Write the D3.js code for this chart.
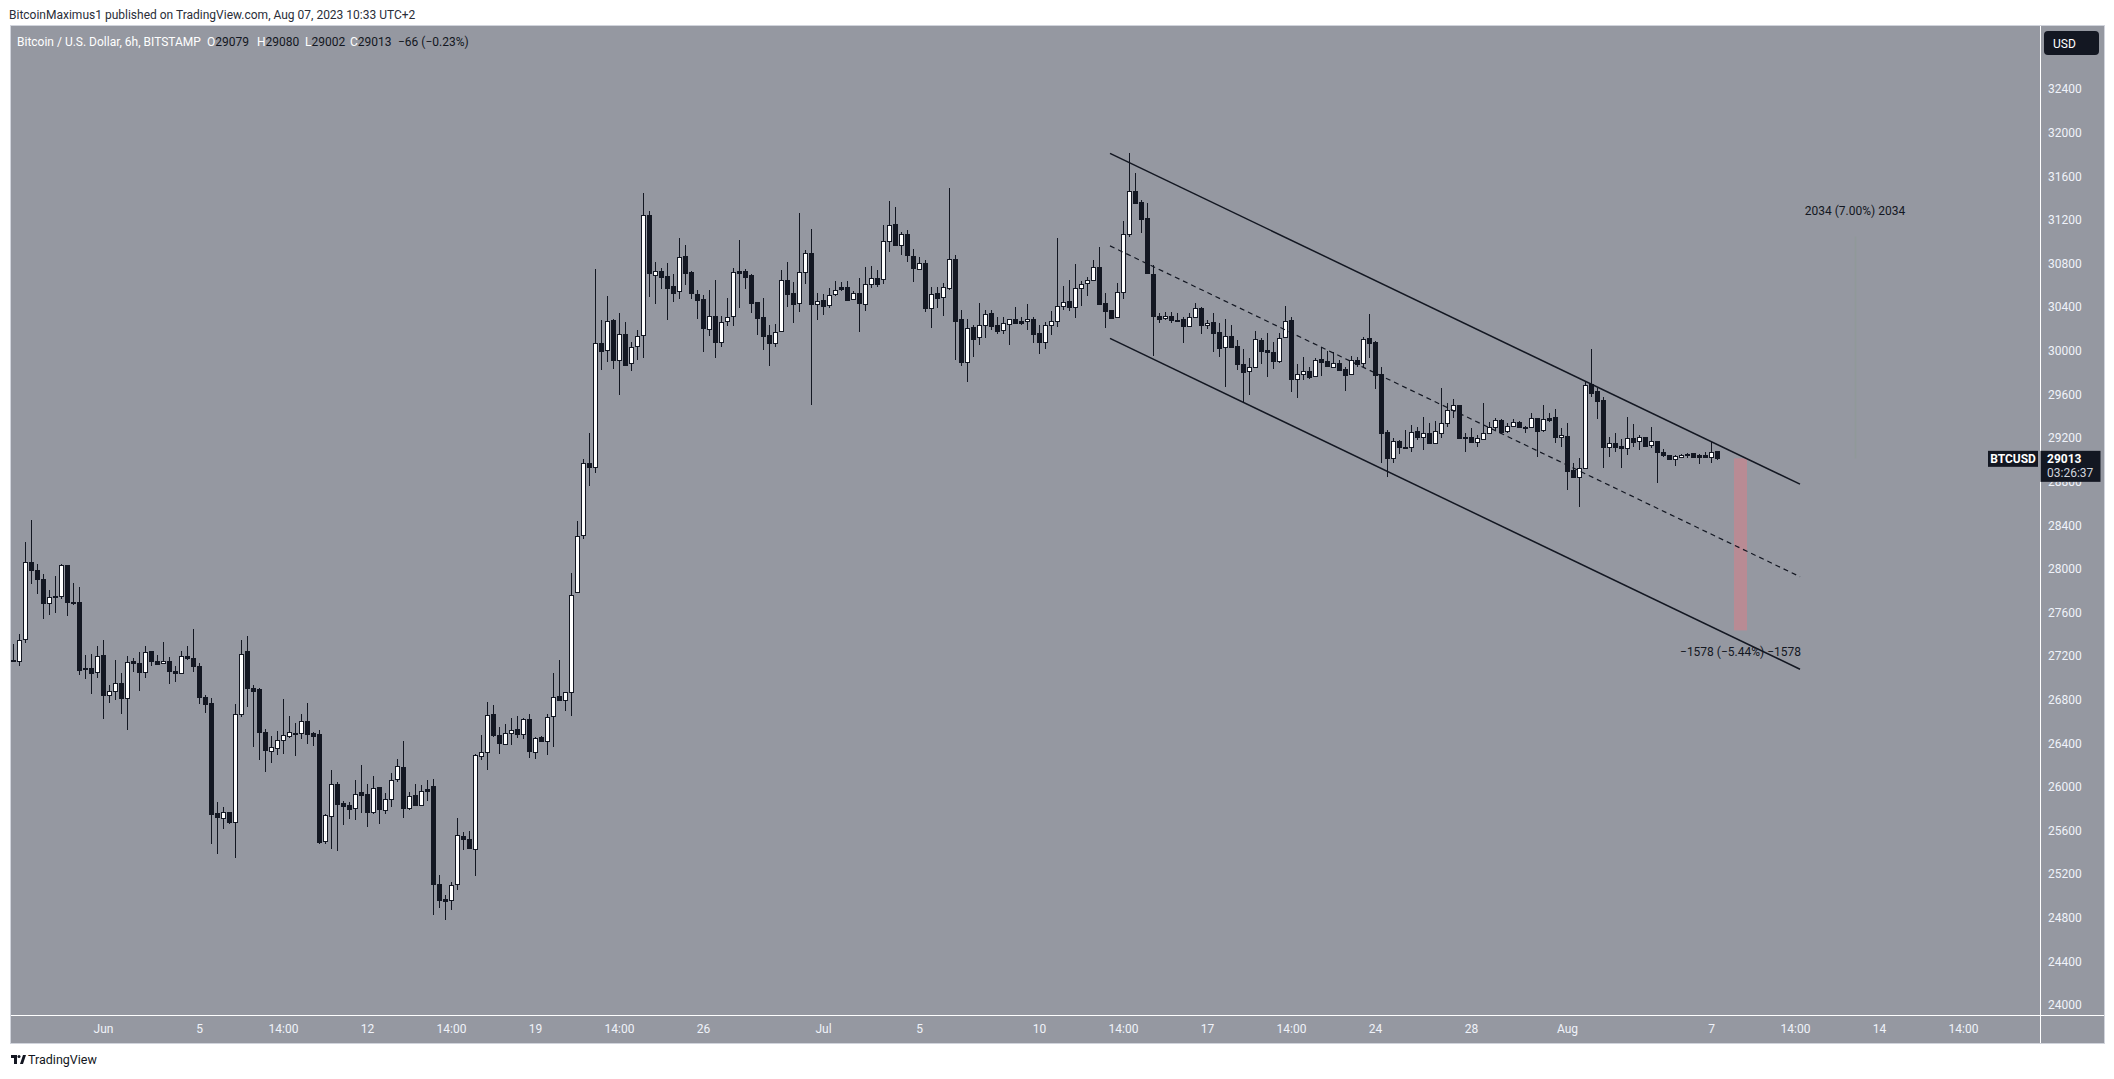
<!DOCTYPE html>
<html><head><meta charset="utf-8">
<script src="https://cdn.jsdelivr.net/npm/d3@7"></script>
<style>
body{margin:0;background:#fff;}
svg{display:block;font-family:Roboto,"Noto Sans",sans-serif;}
</style>
</head><body>
<svg id="c" width="2114" height="1079"></svg>
<script>
// ---------- DATA (times are chart-local UTC+2, stored as UTC) ----------
const firstCandle = "2023-05-28T08:00";
const candleHours = 6;
const opens = [27162,27159,27352,28058,27991,27908,27691,27737,27755,28031,27700,27697,27077,27086,27058,27211,26847,26884,26951,26811,27153,27135,27058,27242,27159,27132,27159,27061,27040,27199,27181,27107,26823,26768,25759,25719,25774,25682,26664,27245,26911,26896,26499,26333,26361,26434,26471,26498,26498,26602,26492,26483,25507,25737,26024,25853,25832,25810,25957,25932,25770,25997,25792,25893,26073,26183,25807,25923,25835,25978,26006,25113,24975,24963,25110,25553,25520,25434,26287,26321,26666,26480,26394,26498,26529,26486,26620,26324,26455,26425,26654,26831,26801,26874,27789,28308,28966,28931,30068,30002,30280,29916,30150,29885,30040,30141,31243,30690,30735,30684,30589,30545,30864,30722,30520,30472,30201,30318,30077,30270,30314,30728,30728,30694,30447,30308,30141,30068,30179,30652,30529,30434,30725,30896,30425,30463,30416,30517,30580,30583,30472,30529,30425,30608,30666,30654,31002,31161,30972,31070,30868,30752,30800,30388,30528,30489,30577,30837,30287,29892,30216,30122,30232,30345,30235,30186,30247,30287,30271,30268,30287,30158,30076,30232,30268,30406,30455,30397,30571,30617,30645,30764,30437,30372,30305,30534,31067,31461,31360,31216,30700,30317,30296,30317,30284,30287,30229,30305,30388,30232,30259,30168,30030,30131,30039,29874,29813,29853,30097,30005,29987,29908,30128,30281,29742,29791,29813,29764,29920,29905,29853,29886,29834,29782,29914,29883,30116,30079,29791,29253,29012,29168,29116,29119,29262,29210,29250,29155,29250,29339,29455,29501,29205,29208,29165,29186,29241,29302,29361,29260,29312,29348,29305,29302,29385,29272,29379,29388,29205,29217,28905,28838,28929,29694,29633,29547,29113,29150,29125,29104,29195,29171,29205,29131,29168,29070,29040,29006,29027,29040,29058,29043,29043,29027,29079];
const highs = [27309,27398,28245,28447,28040,27951,27810,27933,28043,28031,27866,27829,27208,27217,27291,27343,26939,27162,27043,27205,27180,27233,27291,27245,27211,27327,27190,27110,27245,27294,27447,27138,26841,26811,25860,25814,25774,26759,27346,27382,26930,26908,26532,26465,26511,26804,26648,26590,26672,26770,26504,26520,25755,26153,26042,25871,25862,26061,26198,26024,26098,25997,25948,26131,26260,26419,25954,26030,26015,26061,26070,25189,25006,25128,25718,25587,25596,26299,26474,26780,26749,26550,26575,26633,26648,26636,26672,26458,26465,26672,27046,27162,26874,27963,28437,29004,29250,30747,30280,30498,30289,30346,30264,30078,30188,31442,31278,30810,30754,30804,30703,31038,30968,30731,30558,30510,30561,30646,30318,30479,30763,31016,30747,30703,30447,30479,30235,30245,30741,30810,30630,31262,30921,31114,30529,30520,30573,30640,30630,30640,30545,30671,30772,30776,30739,31152,31372,31320,31085,31106,30929,30856,30831,30580,30580,30617,31489,30877,30372,30287,30232,30434,30372,30372,30305,30311,30287,30400,30305,30427,30311,30232,30265,30363,31030,30593,30648,30794,30642,30672,30831,30947,30525,30372,30617,31189,31810,31626,31382,31351,30785,30348,30357,30357,30348,30311,30342,30434,30403,30281,30342,30250,30287,30232,30097,30012,29929,30180,30119,30158,30082,30164,30412,30305,29877,29944,29853,29929,30036,29996,29990,29914,29853,29950,29944,30128,30336,30088,29853,29271,29195,29180,29271,29317,29302,29388,29339,29354,29660,29516,29553,29501,29241,29287,29226,29516,29348,29379,29370,29333,29370,29354,29308,29431,29385,29501,29425,29461,29287,29333,28966,29012,29721,30015,29654,29572,29211,29241,29186,29388,29324,29226,29211,29296,29174,29095,29043,29043,29052,29064,29064,29052,29073,29165,29080];
const lows = [27147,27110,27321,27865,27765,27544,27581,27596,27725,27569,27667,27028,26994,26856,27003,26627,26774,26801,26673,26520,27055,26884,27003,27113,27119,27129,26942,26963,27040,27168,27058,26759,26682,25480,25389,25618,25658,25352,26642,26734,26367,26251,26141,26223,26294,26300,26444,26287,26443,26397,26376,25480,25480,25434,25413,25648,25709,25694,25761,25633,25755,25663,25755,25816,26046,25718,25792,25835,25831,25871,24822,24890,24776,24868,25058,25425,25437,25180,26244,26159,26458,26299,26394,26382,26449,26443,26269,26257,26416,26296,26367,26789,26697,26651,27779,28277,28760,28877,29825,29897,29831,29597,29872,29815,29913,29935,30494,30431,30567,30283,30447,30476,30599,30472,30292,29992,30134,29935,30036,30229,30229,30393,30567,30346,30147,30008,29863,30036,30179,30403,30251,30352,30615,29503,30283,30324,30393,30504,30551,30469,30463,30172,30362,30577,30586,30608,30908,30972,30880,30816,30632,30752,30357,30204,30394,30320,30556,29914,29862,29715,29938,30054,30119,30189,30155,30155,30054,30256,30235,30192,30073,29969,30012,30146,30219,30372,30363,30302,30412,30501,30645,30424,30210,30296,30296,30470,31039,31351,31082,30709,29950,30256,30281,30256,30278,30067,30229,30296,30149,30195,29990,29938,29669,30036,29822,29516,29590,29853,29874,29755,29831,29889,30119,29623,29562,29730,29745,29761,29767,29853,29837,29813,29632,29776,29853,29853,29929,29645,28972,28843,28966,29057,29110,29073,29180,29094,29155,29155,29195,29302,29379,29195,29073,29159,29119,29186,29241,29272,29241,29241,29296,29302,29241,29302,29027,29257,29348,29150,29113,28721,28838,28569,28920,29572,29370,28926,29021,29073,28920,29043,29113,29088,29113,29104,28783,29027,28997,28945,29018,29012,29021,28957,29012,28972,29002];
const closes = [27159,27343,28058,27991,27908,27688,27737,27755,28031,27697,27697,27073,27092,27049,27205,26847,26884,26957,26817,27147,27132,27055,27239,27159,27129,27159,27067,27040,27196,27178,27113,26820,26762,25755,25728,25774,25682,26664,27223,26908,26881,26505,26340,26370,26428,26480,26499,26495,26608,26489,26468,25495,25740,26024,25847,25825,25798,25939,25926,25770,25987,25795,25893,26067,26189,25807,25920,25835,25966,25963,25110,24963,24954,25104,25562,25523,25437,26290,26321,26663,26474,26403,26498,26526,26486,26620,26330,26452,26422,26645,26828,26795,26874,27764,28305,28966,28931,30068,29999,30277,29916,30150,29872,30036,30138,31249,30709,30735,30678,30577,30532,30855,30709,30532,30469,30210,30314,30077,30264,30311,30719,30716,30678,30441,30299,30138,30068,30172,30652,30520,30431,30719,30896,30425,30460,30412,30513,30561,30567,30469,30529,30441,30608,30663,30614,31002,31152,30972,31070,30880,30761,30800,30394,30516,30486,30580,30837,30275,29898,30204,30109,30232,30339,30229,30183,30250,30287,30256,30256,30287,30155,30079,30232,30268,30406,30449,30403,30571,30608,30645,30764,30430,30366,30302,30534,31067,31461,31357,31210,30715,30320,30290,30314,30281,30281,30229,30305,30388,30238,30256,30164,30027,30137,30036,29874,29807,29853,30103,29999,29984,29908,30119,30275,29742,29791,29810,29761,29914,29898,29862,29883,29822,29779,29911,29880,30109,30073,29776,29247,29018,29171,29116,29119,29256,29210,29250,29155,29262,29339,29455,29498,29202,29202,29165,29195,29250,29302,29361,29257,29312,29348,29302,29302,29385,29266,29370,29364,29205,29223,28899,28838,28920,29682,29614,29541,29119,29150,29116,29104,29195,29165,29205,29125,29174,29067,29040,29003,29030,29043,29055,29027,29027,29027,29067,29013];

const priceTicks = [24000,24400,24800,25200,25600,26000,26400,26800,27200,27600,28000,28400,28800,29200,29600,30000,30400,30800,31200,31600,32000,32400];
const timeTickDates = ["2023-06-01T02:00","2023-06-05T02:00","2023-06-08T14:00","2023-06-12T02:00","2023-06-15T14:00","2023-06-19T02:00","2023-06-22T14:00","2023-06-26T02:00","2023-07-01T02:00","2023-07-05T02:00","2023-07-10T02:00","2023-07-13T14:00","2023-07-17T02:00","2023-07-20T14:00","2023-07-24T02:00","2023-07-28T02:00","2023-08-01T02:00","2023-08-07T02:00","2023-08-10T14:00","2023-08-14T02:00","2023-08-17T14:00"];
const timeTickLabels = ["Jun","5","14:00","12","14:00","19","14:00","26","Jul","5","10","14:00","17","14:00","24","28","Aug","7","14:00","14","14:00"];

const channelDates = ["2023-07-13T01:00","2023-08-10T19:00"];
const channelUpper = [31810, 28776];
const channelLower = [30113, 27079];

const lastPrice = 29013;
const countdown = "03:26:37";
const downMeasureDates = ["2023-08-08T01:00","2023-08-08T14:00"];
const downMeasurePrices = [29013, 27435];
const downMeasureLabel = "\u22121578 (\u22125.44%) \u22121578";
const upMeasureDate = "2023-08-13T02:00";
const upMeasurePrices = [29013, 31047];
const upMeasureLabel = "2034 (7.00%) 2034";

// ---------- LAYOUT ----------
const plot = {l: 11, t: 26, r: 2040, b: 1015};
const axisRightEdge = 2104, axisBottomEdge = 1043;
const bg = "#9598a1", dark = "#131722", borderC = "#d1d4dc";

const parse = d3.utcParse("%Y-%m-%dT%H:%M");
const t0 = parse(firstCandle);
const candles = opens.map((o, i) => ({
  t: d3.utcHour.offset(t0, i * candleHours),
  o, h: highs[i], l: lows[i], c: closes[i]
}));

const x = d3.scaleUtc()
  .domain([parse("2023-05-28T06:00"), parse("2023-08-20T19:00")])
  .range([plot.l, plot.r]);
const y = d3.scaleLinear().domain([24000, 32400]).range([1005, 89]);

const svg = d3.select("#c");

// panel background
svg.append("rect").attr("x", plot.l - 0.5).attr("y", plot.t - 0.5)
  .attr("width", axisRightEdge - plot.l + 1).attr("height", axisBottomEdge - plot.t + 1)
  .attr("fill", bg).attr("stroke", borderC).attr("stroke-width", 1);

// header
svg.append("text").attr("x", 9).attr("y", 19).attr("font-size", 12).attr("fill", "#2a2e39")
  .text("BitcoinMaximus1 published on TradingView.com, Aug 07, 2023 10:33 UTC+2");

const leg = svg.append("text").attr("x", 17).attr("y", 46).attr("font-size", 12).attr("fill", "#ffffff");
leg.append("tspan").text("Bitcoin / U.S. Dollar, 6h, BITSTAMP");
const ohlc = [["O", "29079", 207], ["H", "29080", 257], ["L", "29002", 305], ["C", "29013", 350]];
ohlc.forEach(([k, v, px]) => {
  leg.append("tspan").attr("x", px).attr("fill", "#ffffff").text(k);
  leg.append("tspan").attr("fill", dark).text(v);
});
leg.append("tspan").attr("x", 398).attr("fill", dark).text("\u221266 (\u22120.23%)");

// plot clip
svg.append("clipPath").attr("id", "clip").append("rect")
  .attr("x", plot.l).attr("y", plot.t).attr("width", plot.r - plot.l).attr("height", plot.b - plot.t);
const g = svg.append("g").attr("clip-path", "url(#clip)");

// measurement: faint up line
g.append("line")
  .attr("x1", Math.round(x(parse(upMeasureDate))) + 0.5).attr("x2", Math.round(x(parse(upMeasureDate))) + 0.5)
  .attr("y1", y(upMeasurePrices[1])).attr("y2", y(upMeasurePrices[0]))
  .attr("stroke", "#8e9a97").attr("stroke-width", 1.5).attr("opacity", 0.7);

// measurement: red down box
const dm0 = x(parse(downMeasureDates[0])), dm1 = x(parse(downMeasureDates[1]));
g.append("rect").attr("x", dm0).attr("width", dm1 - dm0)
  .attr("y", y(downMeasurePrices[0])).attr("height", y(downMeasurePrices[1]) - y(downMeasurePrices[0]))
  .attr("fill", "#b98b94");

// candles
const cg = g.append("g").attr("shape-rendering", "crispEdges");
const bw = 4;
candles.forEach(d => {
  const cx = Math.round(x(d.t));
  const up = d.c >= d.o;
  cg.append("line").attr("x1", cx + 0.5).attr("x2", cx + 0.5)
    .attr("y1", y(d.h)).attr("y2", y(d.l)).attr("stroke", dark).attr("stroke-width", 1);
  const top = Math.round(y(Math.max(d.o, d.c))), bot = Math.round(y(Math.min(d.o, d.c)));
  cg.append("rect").attr("x", cx - bw / 2 + 0.5).attr("y", top + 0.5)
    .attr("width", bw).attr("height", Math.max(bot - top, 1))
    .attr("fill", up ? "#ffffff" : dark).attr("stroke", dark).attr("stroke-width", 1);
});

// channel
const cx0 = x(parse(channelDates[0])), cx1 = x(parse(channelDates[1]));
const ch = g.append("g").attr("fill", "none").attr("stroke", dark);
ch.append("line").attr("x1", cx0).attr("x2", cx1).attr("y1", y(channelUpper[0])).attr("y2", y(channelUpper[1])).attr("stroke-width", 1.5);
ch.append("line").attr("x1", cx0).attr("x2", cx1).attr("y1", y(channelLower[0])).attr("y2", y(channelLower[1])).attr("stroke-width", 1.5);
ch.append("line").attr("x1", cx0).attr("x2", cx1)
  .attr("y1", y((channelUpper[0] + channelLower[0]) / 2)).attr("y2", y((channelUpper[1] + channelLower[1]) / 2))
  .attr("stroke-width", 1.2).attr("stroke-dasharray", "5,4");

// measure labels
g.append("text").attr("x", x(parse(upMeasureDate))).attr("y", y(upMeasurePrices[1]) - 22)
  .attr("text-anchor", "middle").attr("font-size", 12).attr("fill", dark).text(upMeasureLabel);
g.append("text").attr("x", (dm0 + dm1) / 2).attr("y", y(downMeasurePrices[1]) + 26)
  .attr("text-anchor", "middle").attr("font-size", 12).attr("fill", dark).text(downMeasureLabel);

// separators
svg.append("line").attr("x1", plot.r + 0.5).attr("x2", plot.r + 0.5).attr("y1", plot.t).attr("y2", axisBottomEdge)
  .attr("stroke", "#ffffff").attr("stroke-width", 1);
svg.append("line").attr("x1", plot.l).attr("x2", axisRightEdge).attr("y1", plot.b + 0.5).attr("y2", plot.b + 0.5)
  .attr("stroke", "#ffffff").attr("stroke-width", 1);

// price axis
const yAxis = d3.axisRight(y).tickValues(priceTicks).tickSize(0).tickPadding(0).tickFormat(d3.format("d"));
const ya = svg.append("g").attr("transform", `translate(${plot.r + 8},0)`).call(yAxis);
ya.select(".domain").remove();
ya.selectAll("text").attr("fill", "#f0f3fa").attr("font-size", 12).attr("font-family", "Roboto,'Noto Sans',sans-serif");

// time axis
const xAxis = d3.axisBottom(x).tickValues(timeTickDates.map(parse)).tickSize(0).tickPadding(0)
  .tickFormat((d, i) => timeTickLabels[i]);
const xa = svg.append("g").attr("transform", `translate(0,${plot.b + 9})`).call(xAxis);
xa.select(".domain").remove();
xa.selectAll("text").attr("fill", "#f0f3fa").attr("font-size", 12).attr("font-family", "Roboto,'Noto Sans',sans-serif");

// USD box
svg.append("rect").attr("x", 2044).attr("y", 31).attr("width", 55).attr("height", 24).attr("rx", 4).attr("fill", dark);
svg.append("text").attr("x", 2053).attr("y", 47.5).attr("font-size", 12).attr("fill", "#ffffff").text("USD");

// last price labels
const ly = y(lastPrice);
svg.append("rect").attr("x", 1988).attr("y", ly - 7.5).attr("width", 50).attr("height", 16).attr("fill", dark);
svg.append("text").attr("x", 2013).attr("y", ly + 4.5).attr("text-anchor", "middle").attr("font-size", 12)
  .attr("font-weight", "bold").attr("fill", "#ffffff").text("BTCUSD");
svg.append("rect").attr("x", plot.r + 0.5).attr("y", ly - 7.5).attr("width", 60).attr("height", 31).attr("fill", dark);
svg.append("text").attr("x", 2047).attr("y", ly + 4.5).attr("font-size", 12).attr("font-weight", "bold")
  .attr("fill", "#ffffff").text(d3.format("d")(lastPrice));
svg.append("text").attr("x", 2047).attr("y", ly + 19).attr("font-size", 12).attr("fill", "#d1d4dc").text(countdown);

// TradingView logo
const lg = svg.append("g").attr("transform", "translate(11,1055)").attr("fill", dark);
lg.append("rect").attr("x", 0).attr("y", 0).attr("width", 6).attr("height", 3);
lg.append("rect").attr("x", 3).attr("y", 0).attr("width", 3).attr("height", 9);
lg.append("circle").attr("cx", 8).attr("cy", 1.5).attr("r", 1.5);
lg.append("path").attr("d", "M9,9 L12,0 L15,0 L12,9 Z");
svg.append("text").attr("x", 28).attr("y", 1064).attr("font-size", 12.5).attr("fill", dark).text("TradingView");
</script>
</body></html>
